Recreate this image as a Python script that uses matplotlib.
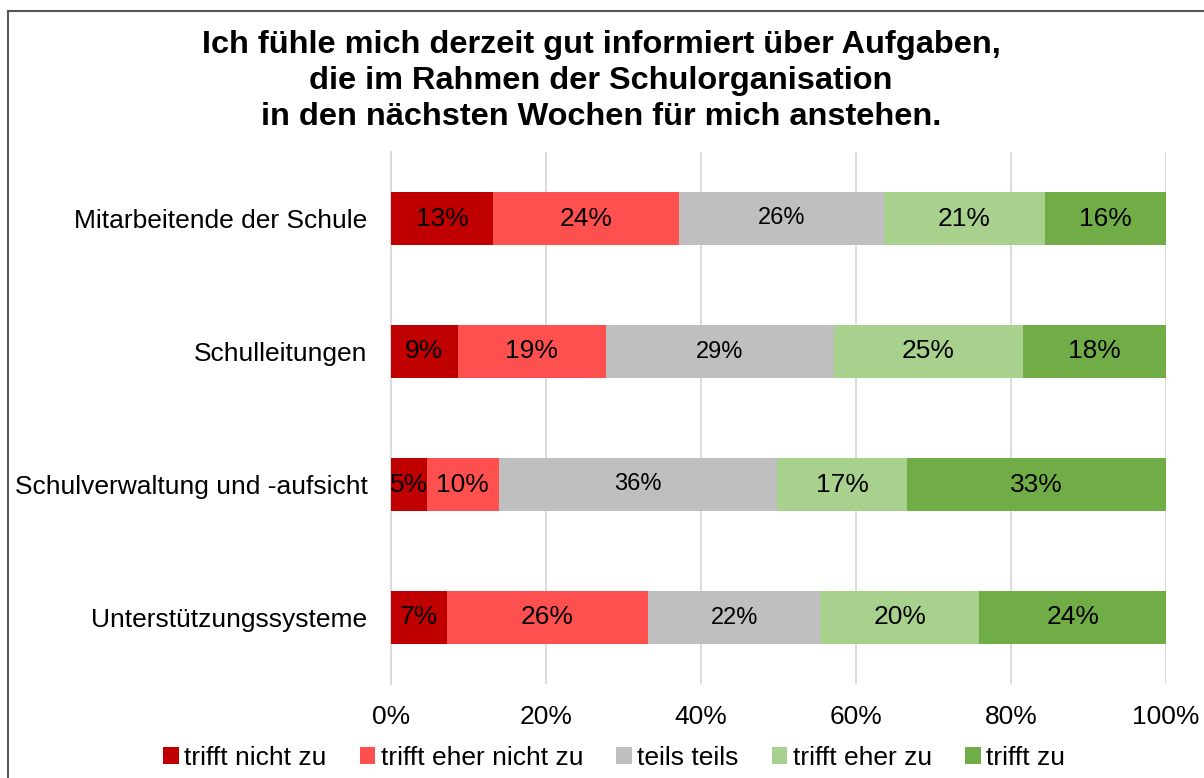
import matplotlib
matplotlib.use("Agg")
from matplotlib import pyplot as plt
from matplotlib.patches import Rectangle
import numpy as np

plt.rcParams['font.family'] = ['Liberation Sans', 'DejaVu Sans']

# data
categories = ["Mitarbeitende der Schule", "Schulleitungen",
              "Schulverwaltung und -aufsicht", "Unterstützungssysteme"]
series = ["trifft nicht zu", "trifft eher nicht zu", "teils teils",
          "trifft eher zu", "trifft zu"]
values = np.array([
    [13.2, 24.0, 26.4, 20.8, 15.6],
    [8.6, 19.1, 29.4, 24.5, 18.4],
    [4.6, 9.3, 35.9, 16.8, 33.4],
    [7.2, 26.0, 22.2, 20.5, 24.1],
])
labels = [
    ["13%", "24%", "26%", "21%", "16%"],
    ["9%", "19%", "29%", "25%", "18%"],
    ["5%", "10%", "36%", "17%", "33%"],
    ["7%", "26%", "22%", "20%", "24%"],
]
colors = ["#C00000", "#FF5050", "#BFBFBF", "#A9D18E", "#70AD47"]
label_size = [19, 19, 17, 19, 19]

title = ("Ich fühle mich derzeit gut informiert über Aufgaben,\n"
         "die im Rahmen der Schulorganisation\n"
         "in den nächsten Wochen für mich anstehen.")

W, H = 1204, 778
fig = plt.figure(figsize=(W / 100, H / 100), dpi=100)
ax = fig.add_axes([391 / W, 1 - 684 / H, (1166 - 391) / W, (684 - 152) / H])

# frame around the chart (cut off at right/bottom)
fig.patches.append(Rectangle((8 / W, -0.1), 1.2, 1 - 11 / H + 0.1,
                             transform=fig.transFigure, fill=False,
                             edgecolor="#555555", linewidth=1.5))

y = np.arange(len(categories))
left = np.zeros(len(categories))
for j, name in enumerate(series):
    ax.barh(y, values[:, j], left=left, height=0.4,
            color=colors[j], label=name, zorder=3)
    for i in range(len(categories)):
        ax.text(left[i] + values[i, j] / 2, y[i], labels[i][j],
                ha="center", va="center", fontsize=label_size[j], zorder=4)
    left += values[:, j]

ax.set_xlim(0, 100)
ax.set_ylim(3.5, -0.5)
ax.set_yticks(y)
ax.set_yticklabels(categories, fontsize=19)
ax.set_xticks(np.arange(0, 101, 20))
ax.set_xticklabels([f"{v}%" for v in range(0, 101, 20)], fontsize=19)
ax.tick_params(length=0)
ax.tick_params(axis="y", pad=17)
ax.tick_params(axis="x", pad=15)
ax.grid(axis="x", color="#D9D9D9", linewidth=1.3, zorder=0)
for s in ["top", "right", "bottom"]:
    ax.spines[s].set_visible(False)
ax.spines["left"].set_color("#D9D9D9")
ax.spines["left"].set_linewidth(1.3)

fig.text(601 / W, 1 - 81 / H, title, ha="center", va="center",
         fontsize=23.4, fontweight="bold", linespacing=1.27)

fig.legend(loc="center", bbox_to_anchor=(614 / W, 1 - 758 / H), ncol=5,
           frameon=False, fontsize=19, handlelength=0.6, handleheight=0.6,
           handletextpad=0.2, columnspacing=1.25)

fig.savefig("out.png", dpi=100)
